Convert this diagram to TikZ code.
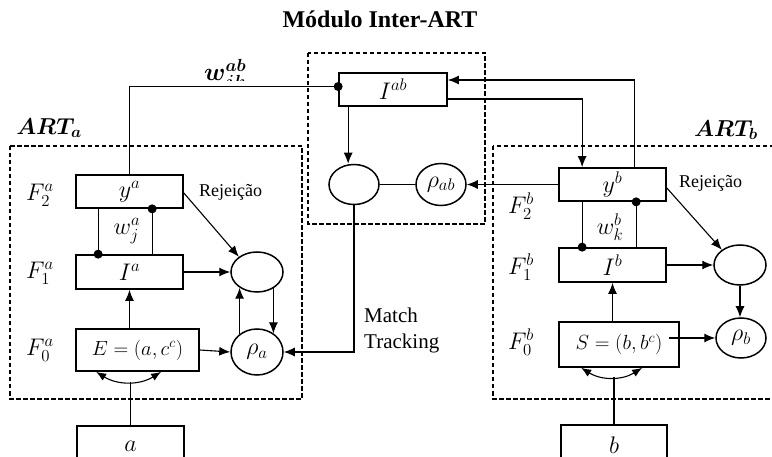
\RequirePackage{fix-cm}
\documentclass[tikz,border=0pt]{standalone}
\usepackage[no-math]{fontspec}
\setmainfont{Liberation Serif}
\usepackage{bm}
\usetikzlibrary{calc,arrows.meta,shapes.geometric}
\begin{document}
\begin{tikzpicture}[x=1pt,y=-1pt,
  font=\fontsize{24}{28}\selectfont,
  box/.style={draw,line width=1.7pt,inner sep=0pt},
  ell/.style={draw,ellipse,line width=1.5pt,inner sep=0pt},
  lab/.style={inner sep=0pt},
  conn/.style={line width=1.1pt},
  arr/.style={conn,-{Latex[length=11pt,width=9pt]}},
  arrboth/.style={conn,{Latex[length=10pt,width=8pt]}-{Latex[length=10pt,width=8pt]}},
  dbox/.style={line width=1.4pt,dash pattern=on 4.5pt off 2.5pt},
  txt/.style={font=\fontsize{18}{21}\selectfont,inner sep=0pt,anchor=west},
]
\useasboundingbox (0,0) rectangle (772,457);
\clip (0,0) rectangle (772,457);

% title
\node[lab,font=\fontsize{24}{28}\selectfont\bfseries] (title) at (380,19) {Módulo Inter-ART};

% dashed boxes
\draw[dbox] (10,146) rectangle (302,399);
\draw[dbox] (308,53) rectangle (485,224);
\draw[dbox] (493,146) rectangle (790,399);

% ART labels
\node[lab,font=\fontsize{23}{26}\selectfont] (arta) at (49,128) {$\bm{ART}_{\bm{a}}$};
\node[lab,font=\fontsize{23}{26}\selectfont] (artb) at (726,130) {$\bm{ART}_{\bm{b}}$};

% left column
\node[box,minimum width=107pt,minimum height=33pt] (ya) at (129.5,191.5) {$y^a$};
\node[box,minimum width=107pt,minimum height=34pt] (Ia) at (129.5,272) {$I^a$};
\node[box,minimum width=123pt,minimum height=42pt,font=\fontsize{20.5}{24}\selectfont] (E) at (137.5,350) {$E=(a,c^c)$};
\node[box,minimum width=107pt,minimum height=40pt] (abox) at (130.5,446) {$a$};
\node[ell,minimum width=52pt,minimum height=40pt] (ea) at (257,272) {};
\node[ell,minimum width=52pt,minimum height=46pt] (rhoa) at (257,352) {$\rho_a$};
\node[lab] (F2a) at (40,195) {$F_2^a$};
\node[lab] (F1a) at (40,273) {$F_1^a$};
\node[lab] (F0a) at (40,350) {$F_0^a$};
\node[lab] (wja) at (127,231) {$w_j^a$};
\node[txt] (rja) at (199,192) {Rejeição};

% middle
\node[box,minimum width=108pt,minimum height=33pt] (Iab) at (393,89.5) {$I^{ab}$};
\node[ell,minimum width=50pt,minimum height=40pt] (em) at (354,184.5) {};
\node[ell,minimum width=50pt,minimum height=42pt] (rhoab) at (441,184.5) {$\rho_{ab}$};
\node[font=\fontsize{21}{26}\selectfont,align=left,anchor=west,inner sep=0pt] (mt) at (364,330) {Match\\Tracking};

% right column
\node[box,minimum width=107pt,minimum height=33pt] (yb) at (612.5,184.5) {$y^b$};
\node[box,minimum width=107pt,minimum height=34pt] (Ib) at (612.5,265) {$I^b$};
\node[box,minimum width=120pt,minimum height=45pt,font=\fontsize{20.5}{24}\selectfont] (S) at (619,344.5) {$S=(b,b^c)$};
\node[box,minimum width=106pt,minimum height=40pt] (bbox) at (614,445) {$b$};
\node[ell,minimum width=52pt,minimum height=40pt] (eb) at (740,265) {};
\node[ell,minimum width=50pt,minimum height=40pt] (rhob) at (741,338) {$\rho_b$};
\node[lab] (F2b) at (521,206) {$F_2^b$};
\node[lab] (F1b) at (521,267) {$F_1^b$};
\node[lab] (F0b) at (521,342) {$F_0^b$};
\node[lab] (wkb) at (610,227) {$w_k^b$};
\node[txt] (rjb) at (679,183) {Rejeição};

% w^ab label (clipped at its bottom)
\begin{scope}
\clip (150,50) rectangle (300,81);
\node[font=\fontsize{25}{30}\selectfont,anchor=base west,inner sep=0pt] (wab) at (204,81) {$\bm{w}^{\bm{ab}}_{\bm{jk}}$};
\end{scope}

% top connections
\coordinate (dotab) at ($(Iab.west)+(0,-3)$);
\draw[conn] (ya.north) |- (dotab);
\fill (dotab) circle (4.5);
\coordinate (pA) at ($(yb.north west)+(76,0)$);
\draw[arr] (pA) |- ($(Iab.east)+(0,-9.5)$);
\coordinate (pC) at ($(yb.north west)+(24,0)$);
\draw[arr] ($(Iab.east)+(0,9.5)$) -| (pC);
\draw[arr] (yb.west) -- (rhoab.east);
\draw[conn] (rhoab.west) -- (em.east);
\coordinate (pB) at ($(Iab.south west)+(10,0)$);
\draw[arr] (pB) -- (pB |- em.north);
\draw[arr] (em.south) |- (rhoa.east);

% left internals
\coordinate (l1t) at ($(ya.south west)+(23,0)$);
\coordinate (l1b) at ($(Ia.north west)+(23,0)$);
\draw[conn] (l1t) -- (l1b); \fill (l1b) circle (4.5);
\coordinate (l2b) at ($(Ia.north west)+(77,0)$);
\coordinate (l2t) at ($(ya.south west)+(77,0)$);
\draw[conn] (l2b) -- (l2t); \fill (l2t) circle (4.5);
\draw[arr] (E.north -| Ia.south) -- (Ia.south);
\draw[arr] (Ia.east) -- (ea.west);
\draw[arr] (E.east) -- (rhoa.west);
\draw[arr] (rhoa.134) -- (rhoa.134 |- ea.222);
\draw[arr] (ea.315) -- (ea.315 |- rhoa.48);
\draw[arr] ($(ya.east)+(0,1.5)$) -- (ea.140);
\draw[arrboth] ($(E.south west)+(21,0)$) to[bend right=32] coordinate[pos=0.5] (ca) ($(E.south west)+(86,0)$);
\draw[conn] (abox.north) -- (abox.north |- ca);

% right internals
\coordinate (r1t) at ($(yb.south west)+(24,0)$);
\coordinate (r1b) at ($(Ib.north west)+(24,0)$);
\draw[conn] (r1t) -- (r1b); \fill (r1b) circle (4.5);
\coordinate (r2b) at ($(Ib.north west)+(78,0)$);
\coordinate (r2t) at ($(yb.south west)+(78,0)$);
\draw[conn] (r2b) -- (r2t); \fill (r2t) circle (4.5);
\draw[arr] (S.north -| Ib.south) -- (Ib.south);
\draw[arr] (Ib.east) -- (eb.west);
\draw[arr] (eb.south) -- (eb.south |- rhob.north);
\draw[arr] ($(S.east)+(-11,-6.5)$) -- (rhob.west);
\draw[arr] ($(yb.east)+(0,3.5)$) -- (eb.140);
\draw[arrboth] ($(S.south west)+(23,0)$) to[bend right=32] coordinate[pos=0.5] (cb) ($(S.south west)+(84,0)$);
\draw[conn] (bbox.north) -- (bbox.north |- cb);
\end{tikzpicture}
\end{document}
